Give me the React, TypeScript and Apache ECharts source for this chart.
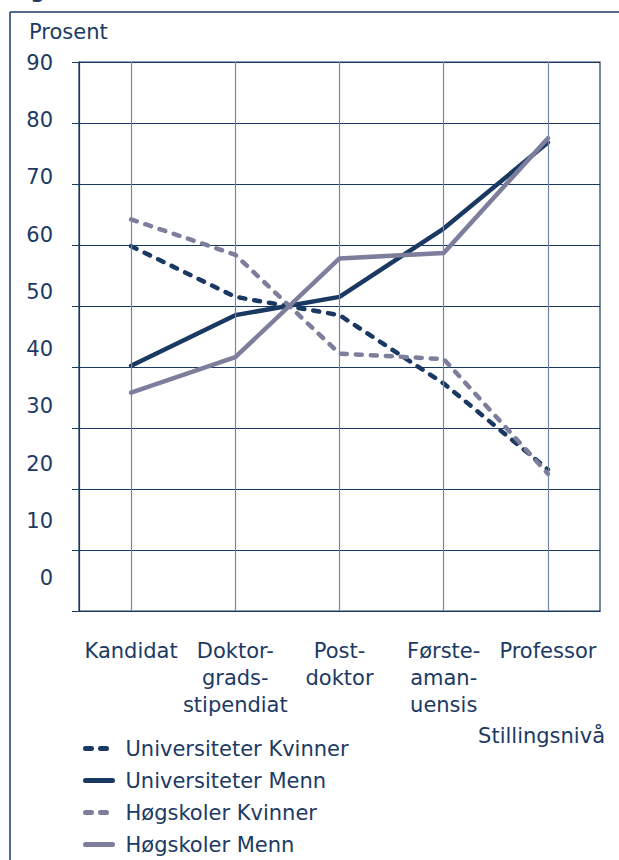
import React, { useEffect, useRef } from "react";
import * as echarts from "echarts";

const categories = ["Kandidat", "Doktor-\ngrads-\nstipendiat", "Post-\ndoktor", "Første-\naman-\nuensis", "Professor"];
const uniKvinner = [59.8, 51.5, 48.5, 37.3, 23.2];
const uniMenn = [40.2, 48.5, 51.5, 62.7, 76.8];
const hogKvinner = [64.2, 58.4, 42.2, 41.3, 22.5];
const hogMenn = [35.8, 41.6, 57.8, 58.7, 77.5];
const yTickLabels = [0, 10, 20, 30, 40, 50, 60, 70, 80, 90];
const seriesNames = ["Universiteter Kvinner", "Universiteter Menn", "Høgskoler Kvinner", "Høgskoler Menn"];

const NAVY = "#1a3962";
const GREY = "#7c7e9c";
const TEXT = "#1c3a63";
const FONT = "DejaVu Sans";
const FS = 21;

export default function App() {
  const ref = useRef<HTMLDivElement>(null);
  useEffect(() => {
    if (!ref.current) return;
    const chart = echarts.init(ref.current, null, { renderer: "svg" });
    const dash = [6, 9];
    const mkLine = (name: string, data: number[], color: string, dashed: boolean) => ({
      name,
      type: "line",
      data,
      symbol: "none",
      z: 3,
      lineStyle: { color, width: 4.5, type: dashed ? dash : "solid", cap: "round", join: "round" },
      itemStyle: { color },
    });
    chart.setOption({
      animation: false,
      textStyle: { fontFamily: FONT, color: TEXT },
      grid: { left: 79, right: 19, top: 62, bottom: 249, show: true, borderColor: NAVY, borderWidth: 1.2 },
      xAxis: {
        type: "category",
        data: categories,
        boundaryGap: true,
        axisLine: { lineStyle: { color: NAVY, width: 1.2 } },
        axisTick: { show: false },
        splitLine: { show: false },
        axisLabel: { interval: 0, fontSize: FS, lineHeight: 27, margin: 26, color: TEXT, fontFamily: FONT },
      },
      yAxis: [
        {
          type: "value",
          min: 0,
          max: 90,
          interval: 10,
          axisLine: { show: true, lineStyle: { color: NAVY, width: 1.2 } },
          axisTick: { show: true, length: 7, lineStyle: { color: NAVY, width: 1 } },
          axisLabel: { show: false },
          splitLine: { show: true, lineStyle: { color: NAVY, width: 1 } },
        },
        {
          type: "value",
          position: "left",
          min: -5.77,
          max: 90.17,
          axisLine: { show: false },
          axisTick: { show: false },
          splitLine: { show: false },
          axisLabel: {
            customValues: yTickLabels,
            margin: 26,
            fontSize: FS,
            color: TEXT,
            fontFamily: FONT,
          },
        },
      ],
      legend: {
        data: seriesNames,
        orient: "vertical",
        left: 83,
        top: 738,
        padding: 0,
        itemWidth: 27,
        itemHeight: 20,
        itemGap: 11,
        itemStyle: { opacity: 0 },
        lineStyle: { width: 5 },
        textStyle: { fontSize: FS, color: TEXT, fontFamily: FONT, padding: [0, 0, 0, 8] },
      },
      graphic: [
        { type: "line", shape: { x1: 10, y1: 12, x2: 619, y2: 12 }, style: { stroke: NAVY, lineWidth: 1.5 } },
        { type: "line", shape: { x1: 10, y1: 12, x2: 10, y2: 860 }, style: { stroke: NAVY, lineWidth: 1.5 } },
        { type: "text", left: 10, top: -19, style: { text: "Figur", font: `bold 20px ${FONT}`, fill: TEXT } },
        { type: "text", left: 29, top: 21, style: { text: "Prosent", font: `${FS}px ${FONT}`, fill: TEXT } },
        { type: "text", right: 14, top: 725, style: { text: "Stillingsnivå", font: `${FS}px ${FONT}`, fill: TEXT } },
      ],
      series: [
        {
          name: "grid-verticals",
          type: "line",
          data: [],
          z: 1,
          silent: true,
          markLine: {
            silent: true,
            symbol: "none",
            label: { show: false },
            lineStyle: { color: "#7486a6", width: 1.2, type: "solid" },
            data: categories.map((c) => ({ xAxis: c })),
          },
        },
        mkLine(seriesNames[0], uniKvinner, NAVY, true),
        mkLine(seriesNames[1], uniMenn, NAVY, false),
        mkLine(seriesNames[2], hogKvinner, GREY, true),
        mkLine(seriesNames[3], hogMenn, GREY, false),
      ],
    });
    return () => chart.dispose();
  }, []);
  return <div ref={ref} style={{ width: 619, height: 860, position: "absolute", left: 0, top: 0 }} />;
}
